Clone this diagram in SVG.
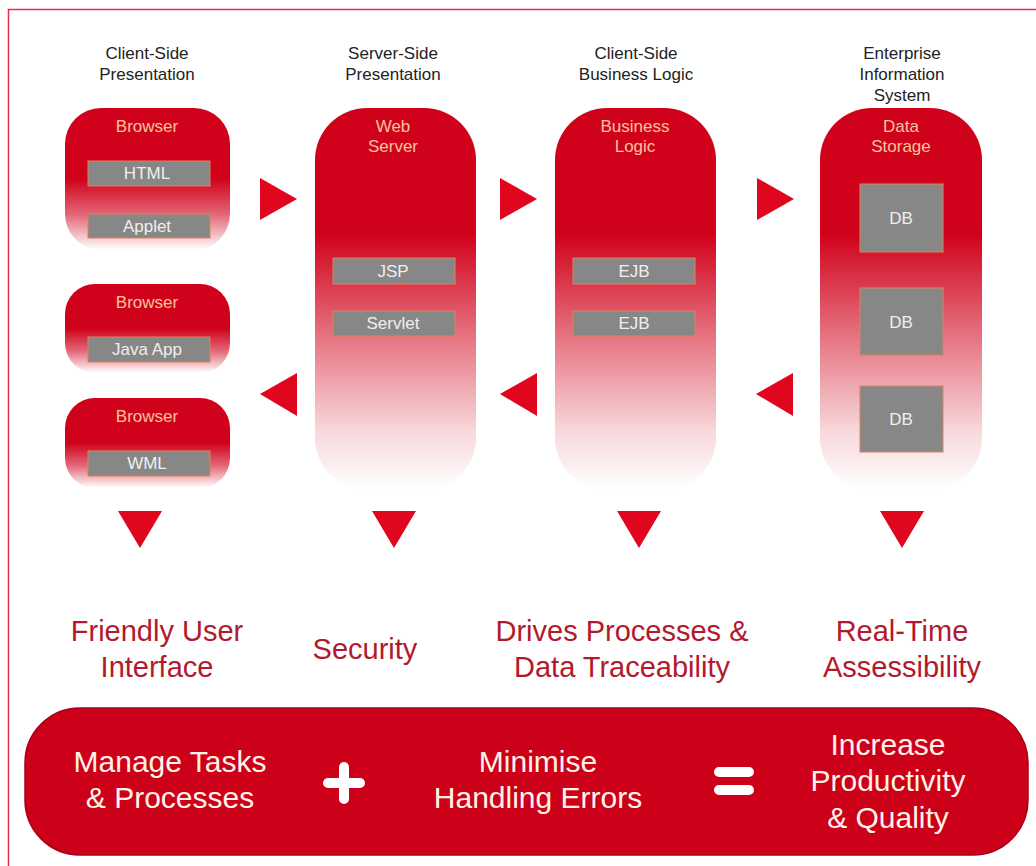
<svg xmlns="http://www.w3.org/2000/svg" width="1036" height="866" viewBox="0 0 1036 866">
<defs>
<linearGradient id="gTall" x1="0" y1="0" x2="0" y2="1">
<stop offset="0" stop-color="#d0021b"/>
<stop offset="0.33" stop-color="#d0021b"/>
<stop offset="0.6" stop-color="#d0021b" stop-opacity="0.55"/>
<stop offset="0.85" stop-color="#d0021b" stop-opacity="0.15"/>
<stop offset="1" stop-color="#d0021b" stop-opacity="0"/>
</linearGradient>
<linearGradient id="gShort" x1="0" y1="0" x2="0" y2="1">
<stop offset="0" stop-color="#d0021b"/>
<stop offset="0.5" stop-color="#d0021b"/>
<stop offset="0.75" stop-color="#d0021b" stop-opacity="0.6"/>
<stop offset="1" stop-color="#d0021b" stop-opacity="0"/>
</linearGradient>
<style>
.hdr{font-family:"Liberation Sans",Arial,sans-serif;font-size:17px;fill:#222;text-anchor:middle}
.ttl{font-family:"Liberation Sans",Arial,sans-serif;font-size:17px;fill:#f9c39c;text-anchor:middle}
.gbox{fill:#878787;stroke:#d9845f;stroke-width:1}
.gtx{font-family:"Liberation Sans",Arial,sans-serif;font-size:17px;fill:#efefef;text-anchor:middle}
.tri{fill:#e0061d}
.lbl{font-family:"Liberation Sans",Arial,sans-serif;font-size:29px;fill:#b3192c;text-anchor:middle}
.wtx{font-family:"Liberation Sans",Arial,sans-serif;font-size:30px;fill:#fff3e8;text-anchor:middle}
</style>
</defs>
<rect width="1036" height="866" fill="#ffffff"/>
<rect x="8.5" y="9.5" width="1040" height="880" fill="none" stroke="#e03049" stroke-width="1.5"/>

<g id="headers">
<text class="hdr" x="147" y="59">Client-Side</text>
<text class="hdr" x="147" y="80">Presentation</text>
<text class="hdr" x="393" y="59">Server-Side</text>
<text class="hdr" x="393" y="80">Presentation</text>
<text class="hdr" x="636" y="59">Client-Side</text>
<text class="hdr" x="636" y="80">Business Logic</text>
<text class="hdr" x="902" y="59">Enterprise</text>
<text class="hdr" x="902" y="80">Information</text>
<text class="hdr" x="902" y="101">System</text>
</g>

<g id="browser1">
<rect x="65" y="108" width="165" height="142" rx="36" fill="url(#gShort)"/>
<text class="ttl" x="147" y="132">Browser</text>
<rect class="gbox" x="88" y="161" width="122" height="25"/>
<text class="gtx" x="147" y="179">HTML</text>
<rect class="gbox" x="88" y="214" width="122" height="24"/>
<text class="gtx" x="147" y="232">Applet</text>
</g>

<g id="browser2">
<rect x="65" y="284" width="165" height="89" rx="30" fill="url(#gShort)"/>
<text class="ttl" x="147" y="308">Browser</text>
<rect class="gbox" x="88" y="337" width="122" height="25"/>
<text class="gtx" x="147" y="355">Java App</text>
</g>

<g id="browser3">
<rect x="65" y="398" width="165" height="90" rx="30" fill="url(#gShort)"/>
<text class="ttl" x="147" y="422">Browser</text>
<rect class="gbox" x="88" y="451" width="122" height="25"/>
<text class="gtx" x="147" y="469">WML</text>
</g>

<g id="webserver">
<rect x="315" y="108" width="161" height="382" rx="52" fill="url(#gTall)"/>
<text class="ttl" x="393" y="132">Web</text>
<text class="ttl" x="393" y="152">Server</text>
<rect class="gbox" x="333" y="258" width="122" height="26"/>
<text class="gtx" x="393" y="277">JSP</text>
<rect class="gbox" x="333" y="311" width="122" height="25"/>
<text class="gtx" x="393" y="329">Servlet</text>
</g>

<g id="businesslogic">
<rect x="555" y="108" width="161" height="382" rx="52" fill="url(#gTall)"/>
<text class="ttl" x="635" y="132">Business</text>
<text class="ttl" x="635" y="152">Logic</text>
<rect class="gbox" x="573" y="258" width="122" height="26"/>
<text class="gtx" x="634" y="277">EJB</text>
<rect class="gbox" x="573" y="311" width="122" height="25"/>
<text class="gtx" x="634" y="329">EJB</text>
</g>

<g id="datastorage">
<rect x="820" y="108" width="162" height="382" rx="52" fill="url(#gTall)"/>
<text class="ttl" x="901" y="132">Data</text>
<text class="ttl" x="901" y="152">Storage</text>
<rect class="gbox" x="860" y="184" width="83" height="68"/>
<text class="gtx" x="901" y="224">DB</text>
<rect class="gbox" x="860" y="288" width="83" height="67"/>
<text class="gtx" x="901" y="328">DB</text>
<rect class="gbox" x="860" y="386" width="83" height="66"/>
<text class="gtx" x="901" y="425">DB</text>
</g>

<g id="connectors">
<polygon class="tri" points="260,178 297,199 260,220"/>
<polygon class="tri" points="500,178 537,199 500,220"/>
<polygon class="tri" points="757,178 794,199 757,220"/>
<polygon class="tri" points="297,373 260,394 297,416"/>
<polygon class="tri" points="537,373 500,394 537,416"/>
<polygon class="tri" points="793,373 756,394 793,416"/>
<polygon class="tri" points="118,511 162,511 140,548"/>
<polygon class="tri" points="372,511 416,511 394,548"/>
<polygon class="tri" points="617,511 661,511 639,548"/>
<polygon class="tri" points="880,511 924,511 902,548"/>
</g>

<g id="labels">
<text class="lbl" x="157" y="641">Friendly User</text>
<text class="lbl" x="157" y="677">Interface</text>
<text class="lbl" x="365" y="659">Security</text>
<text class="lbl" x="622" y="641">Drives Processes &amp;</text>
<text class="lbl" x="622" y="677">Data Traceability</text>
<text class="lbl" x="902" y="641">Real-Time</text>
<text class="lbl" x="902" y="677">Assessibility</text>
</g>

<g id="summary">
<rect x="25" y="708" width="1003" height="147" rx="55" fill="#cd0019" stroke="#a8001a" stroke-width="1.5"/>
<text class="wtx" x="170" y="772">Manage Tasks</text>
<text class="wtx" x="170" y="808">&amp; Processes</text>
<path d="M344,767 V799 M328,783 H360" stroke="#ffffff" stroke-width="10" stroke-linecap="round" fill="none"/>
<text class="wtx" x="538" y="772">Minimise</text>
<text class="wtx" x="538" y="808">Handling Errors</text>
<path d="M719,772 H749 M719,790 H749" stroke="#ffffff" stroke-width="10" stroke-linecap="round" fill="none"/>
<text class="wtx" x="888" y="755">Increase</text>
<text class="wtx" x="888" y="791">Productivity</text>
<text class="wtx" x="888" y="828">&amp; Quality</text>
</g>
</svg>
